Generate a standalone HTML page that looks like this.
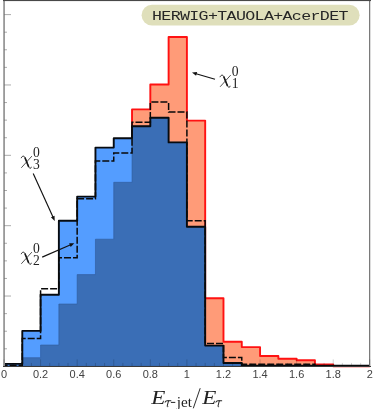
<!DOCTYPE html>
<html><head><meta charset="utf-8"><title>plot</title>
<style>
html,body{margin:0;padding:0;background:#fff;}
body{width:373px;height:409px;overflow:hidden;position:relative;font-family:"Liberation Sans",sans-serif;}
svg{position:absolute;left:0;top:0;display:block;}
.tl text{font-family:"Liberation Sans",sans-serif;font-size:10px;fill:#424242;}
.m{font-family:"Liberation Serif",serif;font-style:italic;fill:#222;}
.r{font-family:"Liberation Serif",serif;font-style:normal;fill:#222;}
</style></head><body>
<svg width="373" height="409" viewBox="0 0 373 409">
<defs>
<filter id="nf" x="0" y="0" width="373" height="409" filterUnits="userSpaceOnUse"><feOffset dx="0" dy="0"/></filter>
</defs>
<rect x="0" y="0" width="373" height="409" fill="#fff"/>
<!-- red histogram -->
<path d="M4.00,366.30 L4.00,365.70 L22.29,365.70 L22.29,357.70 L40.58,357.70 L40.58,345.00 L58.87,345.00 L58.87,304.00 L77.16,304.00 L77.16,274.60 L95.45,274.60 L95.45,239.20 L113.74,239.20 L113.74,182.30 L132.03,182.30 L132.03,109.40 L150.32,109.40 L150.32,84.50 L168.61,84.50 L168.61,37.00 L186.90,37.00 L186.90,120.60 L205.19,120.60 L205.19,298.20 L223.48,298.20 L223.48,341.70 L241.77,341.70 L241.77,347.10 L260.06,347.10 L260.06,356.00 L278.35,356.00 L278.35,358.80 L296.64,358.80 L296.64,360.30 L314.93,360.30 L314.93,364.40 L333.22,364.40 L333.22,366.30 L351.51,366.30 L351.51,366.30 L369.80,366.30 L369.80,366.30 Z" fill="#ff9b78" stroke="none"/>
<path d="M22.29,357.70 L40.58,357.70 L40.58,345.00 L58.87,345.00 L58.87,304.00 L77.16,304.00 L77.16,274.60 L95.45,274.60 L95.45,239.20 L113.74,239.20 L113.74,182.30 L132.03,182.30 L132.03,109.40 L150.32,109.40 L150.32,84.50 L168.61,84.50 L168.61,37.00 L186.90,37.00 L186.90,120.60 L205.19,120.60 L205.19,298.20 L223.48,298.20 L223.48,341.70 L241.77,341.70 L241.77,347.10 L260.06,347.10 L260.06,356.00 L278.35,356.00 L278.35,358.80 L296.64,358.80 L296.64,360.30 L314.93,360.30 L314.93,364.40 L333.22,364.40 L333.22,366.30 L351.51,366.30 L351.51,366.30 L369.80,366.30" fill="none" stroke="#ff1212" stroke-width="1.9" stroke-linejoin="round"/>
<!-- black histogram fill -->
<path d="M4.00,366.30 L4.00,363.90 L22.29,363.90 L22.29,330.90 L40.58,330.90 L40.58,294.70 L58.87,294.70 L58.87,220.80 L77.16,220.80 L77.16,196.60 L95.45,196.60 L95.45,147.60 L113.74,147.60 L113.74,138.30 L132.03,138.30 L132.03,126.20 L150.32,126.20 L150.32,117.70 L168.61,117.70 L168.61,142.40 L186.90,142.40 L186.90,226.70 L205.19,226.70 L205.19,345.60 L223.48,345.60 L223.48,363.00 L241.77,363.00 L241.77,365.70 L260.06,365.70 L260.06,365.70 L278.35,365.70 L278.35,365.70 L296.64,365.70 L296.64,365.70 L314.93,365.70 L314.93,365.70 L333.22,365.70 L333.22,365.70 L351.51,365.70 L351.51,365.70 L369.80,365.70 L369.80,366.30 Z" fill="#549dff" stroke="none"/>
<!-- overlap -->
<path d="M4.00,366.30 L4.00,365.70 L22.29,365.70 L22.29,357.70 L40.58,357.70 L40.58,345.00 L58.87,345.00 L58.87,304.00 L77.16,304.00 L77.16,274.60 L95.45,274.60 L95.45,239.20 L113.74,239.20 L113.74,182.30 L132.03,182.30 L132.03,126.20 L150.32,126.20 L150.32,117.70 L168.61,117.70 L168.61,142.40 L186.90,142.40 L186.90,226.70 L205.19,226.70 L205.19,345.60 L223.48,345.60 L223.48,363.00 L241.77,363.00 L241.77,365.70 L260.06,365.70 L260.06,365.70 L278.35,365.70 L278.35,365.70 L296.64,365.70 L296.64,365.70 L314.93,365.70 L314.93,365.70 L333.22,365.70 L333.22,366.30 L351.51,366.30 L351.51,366.30 L369.80,366.30 L369.80,366.30 Z" fill="#3a6eb6" stroke="#2f5b9a" stroke-width="0.6"/>
<!-- black outline -->
<path d="M4.00,363.90 L22.29,363.90 L22.29,330.90 L40.58,330.90 L40.58,294.70 L58.87,294.70 L58.87,220.80 L77.16,220.80 L77.16,196.60 L95.45,196.60 L95.45,147.60 L113.74,147.60 L113.74,138.30 L132.03,138.30 L132.03,126.20 L150.32,126.20 L150.32,117.70 L168.61,117.70 L168.61,142.40 L186.90,142.40 L186.90,226.70 L205.19,226.70 L205.19,345.60 L223.48,345.60 L223.48,363.00 L241.77,363.00 L241.77,365.70 L260.06,365.70 L260.06,365.70 L278.35,365.70 L278.35,365.70 L296.64,365.70 L296.64,365.70 L314.93,365.70 L314.93,365.70 L333.22,365.70 L333.22,365.70 L351.51,365.70 L351.51,365.70 L369.80,365.70" fill="none" stroke="#070b10" stroke-width="1.9" stroke-linejoin="round"/>
<!-- dashed -->
<path d="M4.00,365.30 L22.29,365.30 L22.29,338.40 L40.58,338.40 L40.58,288.80 L58.87,288.80 L58.87,257.70 L77.16,257.70 L77.16,198.80 L95.45,198.80 L95.45,161.00 L113.74,161.00 L113.74,153.00 L132.03,153.00 L132.03,122.20 L150.32,122.20 L150.32,102.10 L168.61,102.10 L168.61,112.00 L186.90,112.00 L186.90,220.80 L205.19,220.80 L205.19,343.50 L223.48,343.50 L223.48,357.60 L241.77,357.60 L241.77,364.30 L260.06,364.30 L260.06,364.30 L278.35,364.30 L278.35,364.30 L296.64,364.30 L296.64,364.30 L314.93,364.30 L314.93,365.70 L333.22,365.70 L333.22,365.70 L351.51,365.70 L351.51,365.70 L369.80,365.70" fill="none" stroke="#0a0a0a" stroke-width="1.5" stroke-dasharray="7 2" stroke-dashoffset="3.4"/>
<!-- frame -->
<g shape-rendering="crispEdges">
<rect x="3" y="0" width="1" height="367" fill="#ababab"/>
<rect x="4" y="0" width="1" height="367" fill="#9a9a9a"/>
<rect x="369" y="0" width="1" height="367" fill="#7a7a7a"/>
<rect x="370" y="0" width="1" height="367" fill="#dcdcdc"/>
<rect x="3" y="0" width="368" height="1" fill="#484848"/>
<rect x="3" y="1" width="368" height="1" fill="#000" fill-opacity="0.06"/>
<rect x="3" y="366" width="368" height="1" fill="#3a3a3a"/>
</g>
<g stroke="#000" stroke-opacity="0.37" stroke-width="0.9">
<line x1="4.5" y1="14.60" x2="11.00" y2="14.60"/>
<line x1="4.5" y1="32.19" x2="7.00" y2="32.19"/>
<line x1="4.5" y1="49.78" x2="7.00" y2="49.78"/>
<line x1="4.5" y1="67.37" x2="7.00" y2="67.37"/>
<line x1="4.5" y1="84.96" x2="11.00" y2="84.96"/>
<line x1="4.5" y1="102.55" x2="7.00" y2="102.55"/>
<line x1="4.5" y1="120.14" x2="7.00" y2="120.14"/>
<line x1="4.5" y1="137.73" x2="7.00" y2="137.73"/>
<line x1="4.5" y1="155.32" x2="11.00" y2="155.32"/>
<line x1="4.5" y1="172.91" x2="7.00" y2="172.91"/>
<line x1="4.5" y1="190.50" x2="7.00" y2="190.50"/>
<line x1="4.5" y1="208.09" x2="7.00" y2="208.09"/>
<line x1="4.5" y1="225.68" x2="11.00" y2="225.68"/>
<line x1="4.5" y1="243.27" x2="7.00" y2="243.27"/>
<line x1="4.5" y1="260.86" x2="7.00" y2="260.86"/>
<line x1="4.5" y1="278.45" x2="7.00" y2="278.45"/>
<line x1="4.5" y1="296.04" x2="11.00" y2="296.04"/>
<line x1="4.5" y1="313.63" x2="7.00" y2="313.63"/>
<line x1="4.5" y1="331.22" x2="7.00" y2="331.22"/>
<line x1="4.5" y1="348.81" x2="7.00" y2="348.81"/>
</g>
<g stroke="#000" stroke-opacity="0.2" stroke-width="0.9">
<line x1="4.00" y1="366" x2="4.00" y2="359.40"/>
<line x1="13.14" y1="366" x2="13.14" y2="362.90"/>
<line x1="22.29" y1="366" x2="22.29" y2="362.90"/>
<line x1="31.43" y1="366" x2="31.43" y2="362.90"/>
<line x1="40.58" y1="366" x2="40.58" y2="359.40"/>
<line x1="49.72" y1="366" x2="49.72" y2="362.90"/>
<line x1="58.87" y1="366" x2="58.87" y2="362.90"/>
<line x1="68.02" y1="366" x2="68.02" y2="362.90"/>
<line x1="77.16" y1="366" x2="77.16" y2="359.40"/>
<line x1="86.30" y1="366" x2="86.30" y2="362.90"/>
<line x1="95.45" y1="366" x2="95.45" y2="362.90"/>
<line x1="104.59" y1="366" x2="104.59" y2="362.90"/>
<line x1="113.74" y1="366" x2="113.74" y2="359.40"/>
<line x1="122.88" y1="366" x2="122.88" y2="362.90"/>
<line x1="132.03" y1="366" x2="132.03" y2="362.90"/>
<line x1="141.17" y1="366" x2="141.17" y2="362.90"/>
<line x1="150.32" y1="366" x2="150.32" y2="359.40"/>
<line x1="159.47" y1="366" x2="159.47" y2="362.90"/>
<line x1="168.61" y1="366" x2="168.61" y2="362.90"/>
<line x1="177.75" y1="366" x2="177.75" y2="362.90"/>
<line x1="186.90" y1="366" x2="186.90" y2="359.40"/>
<line x1="196.04" y1="366" x2="196.04" y2="362.90"/>
<line x1="205.19" y1="366" x2="205.19" y2="362.90"/>
<line x1="214.33" y1="366" x2="214.33" y2="362.90"/>
<line x1="223.48" y1="366" x2="223.48" y2="359.40"/>
<line x1="232.62" y1="366" x2="232.62" y2="362.90"/>
<line x1="241.77" y1="366" x2="241.77" y2="362.90"/>
<line x1="250.91" y1="366" x2="250.91" y2="362.90"/>
<line x1="260.06" y1="366" x2="260.06" y2="359.40"/>
<line x1="269.20" y1="366" x2="269.20" y2="362.90"/>
<line x1="278.35" y1="366" x2="278.35" y2="362.90"/>
<line x1="287.50" y1="366" x2="287.50" y2="362.90"/>
<line x1="296.64" y1="366" x2="296.64" y2="359.40"/>
<line x1="305.78" y1="366" x2="305.78" y2="362.90"/>
<line x1="314.93" y1="366" x2="314.93" y2="362.90"/>
<line x1="324.07" y1="366" x2="324.07" y2="362.90"/>
<line x1="333.22" y1="366" x2="333.22" y2="359.40"/>
<line x1="342.37" y1="366" x2="342.37" y2="362.90"/>
<line x1="351.51" y1="366" x2="351.51" y2="362.90"/>
<line x1="360.65" y1="366" x2="360.65" y2="362.90"/>
<line x1="369.80" y1="366" x2="369.80" y2="359.40"/>
</g>
<g filter="url(#nf)"><g class="tl">
<text transform="translate(4.00,378) scale(1.1,1)" text-anchor="middle">0</text>
<text transform="translate(40.58,378) scale(1.1,1)" text-anchor="middle">0.2</text>
<text transform="translate(77.16,378) scale(1.1,1)" text-anchor="middle">0.4</text>
<text transform="translate(113.74,378) scale(1.1,1)" text-anchor="middle">0.6</text>
<text transform="translate(150.32,378) scale(1.1,1)" text-anchor="middle">0.8</text>
<text transform="translate(186.90,378) scale(1.1,1)" text-anchor="middle">1</text>
<text transform="translate(223.48,378) scale(1.1,1)" text-anchor="middle">1.2</text>
<text transform="translate(260.06,378) scale(1.1,1)" text-anchor="middle">1.4</text>
<text transform="translate(296.64,378) scale(1.1,1)" text-anchor="middle">1.6</text>
<text transform="translate(333.22,378) scale(1.1,1)" text-anchor="middle">1.8</text>
<text transform="translate(369.80,378) scale(1.1,1)" text-anchor="middle">2</text>
</g>
<!-- pill -->
<rect x="141.6" y="4.8" width="218" height="20.8" rx="10.4" ry="10.4" fill="#dfdfbb"/>
<text transform="translate(152.0,19.9) scale(1,0.79)" font-family="Liberation Mono, monospace" font-size="16.64" letter-spacing="-0.655" fill="#262626">HERWIG+TAUOLA+AcerDET</text>
<!-- arrows -->
<g stroke="#111" stroke-width="1.15" fill="#111">
<line x1="215.00" y1="79.30" x2="195.23" y2="73.54"/><polygon points="192.00,72.60 197.17,72.02 196.05,75.86" stroke="none"/><line x1="33.20" y1="173.50" x2="53.31" y2="217.84"/><polygon points="54.70,220.90 50.90,217.35 54.54,215.70" stroke="none"/><line x1="42.20" y1="257.10" x2="71.22" y2="244.54"/><polygon points="74.30,243.20 70.69,246.94 69.10,243.27" stroke="none"/>
</g>
<!-- chi labels -->
<g>
<g transform="translate(220.0,75.0)" fill="none" stroke="#1a1a1a" stroke-linecap="round" stroke-linejoin="round">
<path d="M0.1,1.8 C0.6,0.6 1.5,0.0 2.4,0.2 C3.3,0.4 3.7,1.3 4.1,2.3 L7.4,10.6 C7.8,11.6 8.4,12.4 9.2,12.3 C9.7,12.2 10.0,11.7 10.1,11.2" stroke-width="0.9"/>
<path d="M3.7,1.5 L7.5,11.0" stroke-width="1.6" stroke-linecap="butt"/>
<path d="M10.7,0.1 L0.1,11.8" stroke-width="0.75" stroke-linecap="butt"/>
</g>
<text class="r" x="231.8" y="75.7" font-size="13.6">0</text>
<text class="r" x="231.8" y="88.0" font-size="13.6">1</text>
<g transform="translate(21.2,156.0)" fill="none" stroke="#1a1a1a" stroke-linecap="round" stroke-linejoin="round">
<path d="M0.1,1.8 C0.6,0.6 1.5,0.0 2.4,0.2 C3.3,0.4 3.7,1.3 4.1,2.3 L7.4,10.6 C7.8,11.6 8.4,12.4 9.2,12.3 C9.7,12.2 10.0,11.7 10.1,11.2" stroke-width="0.9"/>
<path d="M3.7,1.5 L7.5,11.0" stroke-width="1.6" stroke-linecap="butt"/>
<path d="M10.7,0.1 L0.1,11.8" stroke-width="0.75" stroke-linecap="butt"/>
</g>
<text class="r" x="33.0" y="157.3" font-size="13.6">0</text>
<text class="r" x="33.0" y="168.7" font-size="13.6">3</text>
<g transform="translate(21.2,252.0)" fill="none" stroke="#1a1a1a" stroke-linecap="round" stroke-linejoin="round">
<path d="M0.1,1.8 C0.6,0.6 1.5,0.0 2.4,0.2 C3.3,0.4 3.7,1.3 4.1,2.3 L7.4,10.6 C7.8,11.6 8.4,12.4 9.2,12.3 C9.7,12.2 10.0,11.7 10.1,11.2" stroke-width="0.9"/>
<path d="M3.7,1.5 L7.5,11.0" stroke-width="1.6" stroke-linecap="butt"/>
<path d="M10.7,0.1 L0.1,11.8" stroke-width="0.75" stroke-linecap="butt"/>
</g>
<text class="r" x="33.0" y="253.0" font-size="13.6">0</text>
<text class="r" x="33.0" y="264.6" font-size="13.6">2</text>
</g>
<!-- axis title -->
<g>
<text class="m" transform="translate(151.2,403.6) scale(1.19,1)" font-size="19.4">E</text>
<g transform="translate(165.0,400.6)" fill="none" stroke="#222" stroke-linecap="round" stroke-linejoin="round">
<path d="M0.1,1.5 C0.5,0.5 1.2,0.1 2.2,0.1 L5.9,0.1" stroke-width="1.05"/>
<path d="M3.5,0.3 L2.2,5.4 C2.1,6.0 2.4,6.3 2.9,6.1" stroke-width="1.0"/>
</g>
<line x1="170.9" y1="402.4" x2="175.3" y2="402.4" stroke="#222" stroke-width="1.0"/>
<text class="r" transform="translate(176.7,406.6) scale(1.09,1)" font-size="14">jet</text>
<line x1="193.3" y1="408.3" x2="200.2" y2="388.2" stroke="#222" stroke-width="0.95"/>
<text class="m" transform="translate(202.2,403.6) scale(1.19,1)" font-size="19.4">E</text>
<g transform="translate(215.8,400.6)" fill="none" stroke="#222" stroke-linecap="round" stroke-linejoin="round">
<path d="M0.1,1.5 C0.5,0.5 1.2,0.1 2.2,0.1 L5.9,0.1" stroke-width="1.05"/>
<path d="M3.5,0.3 L2.2,5.4 C2.1,6.0 2.4,6.3 2.9,6.1" stroke-width="1.0"/>
</g>
</g></g>
</svg>
</body></html>
